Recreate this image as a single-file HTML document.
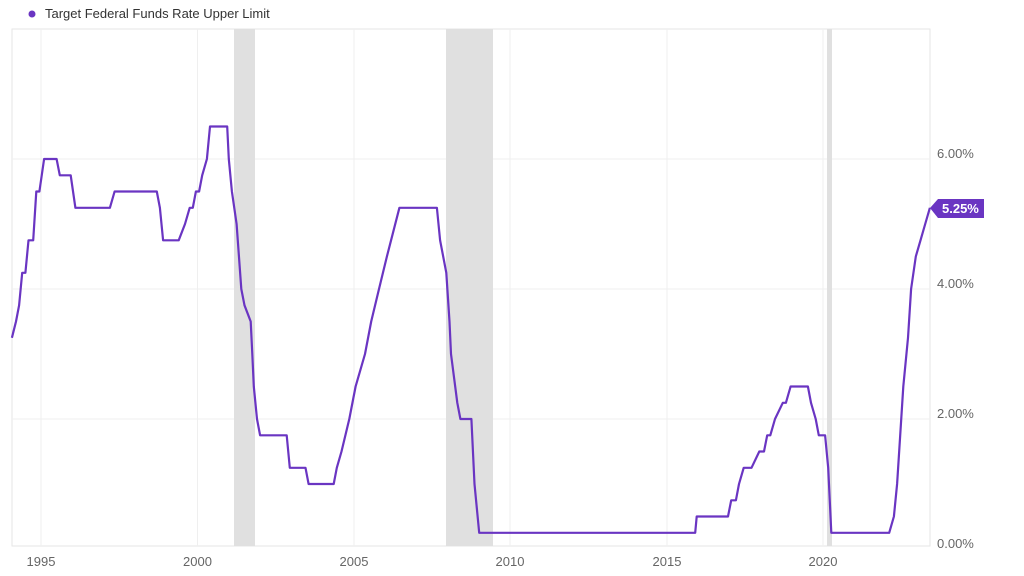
<!DOCTYPE html>
<html><head><meta charset="utf-8"><style>
html,body{margin:0;padding:0;background:#fff;width:1024px;height:576px;overflow:hidden;font-family:"Liberation Sans",sans-serif}
</style></head><body>
<svg id="s" width="1024" height="576" xmlns="http://www.w3.org/2000/svg" font-family="Liberation Sans, sans-serif">
<rect x="12" y="29" width="918" height="517" fill="#fff" stroke="#e6e6e6"/>
<g stroke="#efefef" stroke-width="1">
<line x1="41" y1="29" x2="41" y2="546"/><line x1="197.5" y1="29" x2="197.5" y2="546"/>
<line x1="354" y1="29" x2="354" y2="546"/><line x1="510" y1="29" x2="510" y2="546"/>
<line x1="667" y1="29" x2="667" y2="546"/><line x1="823" y1="29" x2="823" y2="546"/>
<line x1="12" y1="159" x2="930" y2="159"/><line x1="12" y1="289" x2="930" y2="289"/><line x1="12" y1="419" x2="930" y2="419"/>
</g>
<g fill="#e0e0e0">
<rect x="234" y="29" width="21" height="517"/>
<rect x="446" y="29" width="47" height="517"/>
<rect x="827" y="29" width="5" height="517"/>
</g>
<path id="p" fill="none" stroke="#6a35c2" stroke-width="2.2" stroke-linejoin="round"/>
<g fill="#666" font-size="13">
<text x="41" y="566" text-anchor="middle">1995</text><text x="197.5" y="566" text-anchor="middle">2000</text>
<text x="354" y="566" text-anchor="middle">2005</text><text x="510" y="566" text-anchor="middle">2010</text>
<text x="667" y="566" text-anchor="middle">2015</text><text x="823" y="566" text-anchor="middle">2020</text>
<text x="937" y="158">6.00%</text><text x="937" y="288">4.00%</text><text x="937" y="418">2.00%</text><text x="937" y="548">0.00%</text>
</g>
<path d="M930 208 L938 199 H984 V218 H938 Z" fill="#6a35c2"/>
<text x="942" y="213" fill="#fff" font-size="13" font-weight="bold">5.25%</text>
<circle cx="32" cy="14" r="3.5" fill="#6a35c2"/>
<text x="45" y="18" fill="#333" font-size="13">Target Federal Funds Rate Upper Limit</text>
</svg>
<script>
var d=[[1994.07,3.25],[1994.2,3.5],[1994.3,3.75],[1994.4,4.25],[1994.5,4.25],[1994.6,4.75],[1994.75,4.75],[1994.85,5.5],[1994.95,5.5],[1995.1,6],[1995.5,6],[1995.6,5.75],[1995.95,5.75],[1996.1,5.25],[1997.2,5.25],[1997.35,5.5],[1998.7,5.5],[1998.8,5.25],[1998.9,4.75],[1999.4,4.75],[1999.6,5],[1999.75,5.25],[1999.85,5.25],[1999.95,5.5],[2000.05,5.5],[2000.15,5.75],[2000.3,6],[2000.4,6.5],[2000.95,6.5],[2001.0,6],[2001.1,5.5],[2001.25,5],[2001.4,4],[2001.5,3.75],[2001.7,3.5],[2001.75,3],[2001.8,2.5],[2001.9,2],[2002.0,1.75],[2002.85,1.75],[2002.95,1.25],[2003.45,1.25],[2003.55,1],[2004.35,1],[2004.45,1.25],[2004.6,1.5],[2004.85,2],[2005.05,2.5],[2005.35,3],[2005.55,3.5],[2005.8,4],[2006.05,4.5],[2006.45,5.25],[2007.65,5.25],[2007.75,4.75],[2007.95,4.25],[2008.05,3.5],[2008.1,3],[2008.3,2.25],[2008.4,2],[2008.75,2],[2008.85,1],[2009.0,0.25],[2015.9,0.25],[2015.95,0.5],[2016.95,0.5],[2017.05,0.75],[2017.2,0.75],[2017.3,1],[2017.45,1.25],[2017.7,1.25],[2017.95,1.5],[2018.1,1.5],[2018.2,1.75],[2018.3,1.75],[2018.45,2],[2018.7,2.25],[2018.8,2.25],[2018.95,2.5],[2019.5,2.5],[2019.6,2.25],[2019.75,2],[2019.85,1.75],[2020.05,1.75],[2020.15,1.25],[2020.25,0.25],[2022.1,0.25],[2022.25,0.5],[2022.35,1],[2022.45,1.75],[2022.55,2.5],[2022.7,3.25],[2022.8,4],[2022.95,4.5],[2023.1,4.75],[2023.25,5],[2023.4,5.25]];
var s="";d.forEach(function(p,i){var x=41+31.3*(p[0]-1995),y=549-65*p[1];s+=(i?"L":"M")+x.toFixed(1)+" "+y.toFixed(1);});
document.getElementById("p").setAttribute("d",s);
</script>
</body></html>
